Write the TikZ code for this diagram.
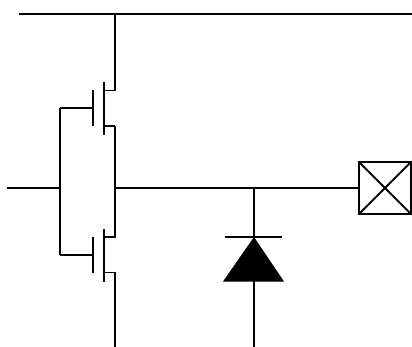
\documentclass[tikz,border=0pt]{standalone}
\tikzset{every picture/.style={line width=0.75pt}}
\tikzset{wire/.style={line width=1.4pt,line cap=butt}, rail/.style={line width=1.5pt},
  padbox/.style={draw,line width=1.4pt,minimum width=39.6pt,minimum height=39.6pt,inner sep=0pt,outer sep=0pt}}

\begin{document}
\begin{tikzpicture}[x=0.75pt,y=0.75pt,yscale=-1,xscale=1]
    \useasboundingbox (0,0) rectangle (412,347);

    % Rail and input
    \coordinate (railL) at (19,14);
    \coordinate (railR) at (412,14);
    \coordinate (railT) at (115,14);
    \coordinate (inL) at (7,188);
    \coordinate (inJ) at (59.7,188);
    \coordinate (outJ) at (115,188);
    \coordinate (gnd) at (115,347);
    \draw [rail] (railL) -- (railR);
    \draw [wire] (inL) -- (inJ);

    % Upper transistor
    \coordinate (dU) at (115,90.5);
    \coordinate (sU) at (115,126);
    \coordinate (gU) at (59.7,108);
    \draw [wire] (railT) -- (dU) -- (104.3,90.5);
    \draw [rail] (104.3,82) -- (104.3,134.5);
    \draw [wire] (104.3,126) -- (sU);
    \draw [wire] (93.3,90) -- (93.3,125.5);
    \draw [wire] (93.3,108) -- (gU);

    % Lower transistor
    \coordinate (dL) at (115,237);
    \coordinate (sL) at (115,272.5);
    \coordinate (gL) at (59.7,254.7);
    \draw [wire] (sU) -- (dL) -- (104.3,237);
    \draw [rail] (104.3,229) -- (104.3,281.5);
    \draw [wire] (104.3,272.5) -- (sL) -- (gnd);
    \draw [wire] (93.3,237) -- (93.3,272.5);
    \draw [wire] (93.3,254.7) -- (gL);
    \draw [wire] (gU) -- (gL);

    % Output pad
    \node [padbox] (pad) at (385,188) {};
    \draw [wire] (pad.north west) -- (pad.south east);
    \draw [wire] (pad.south west) -- (pad.north east);
    \draw [wire] (outJ) -- (pad.west);

    % Diode
    \coordinate (dioT) at (254,188);
    \coordinate (dioA) at (254,237);
    \coordinate (dioB) at (254,281);
    \coordinate (dioE) at (254,347);
    \draw [wire] (dioT) -- (dioA);
    \draw [wire] (225,237) -- (282,237);
    \fill (dioA) -- (284,281.5) -- (223,281.5) -- cycle;
    \draw [wire] (dioB) -- (dioE);

\end{tikzpicture}
\end{document}
